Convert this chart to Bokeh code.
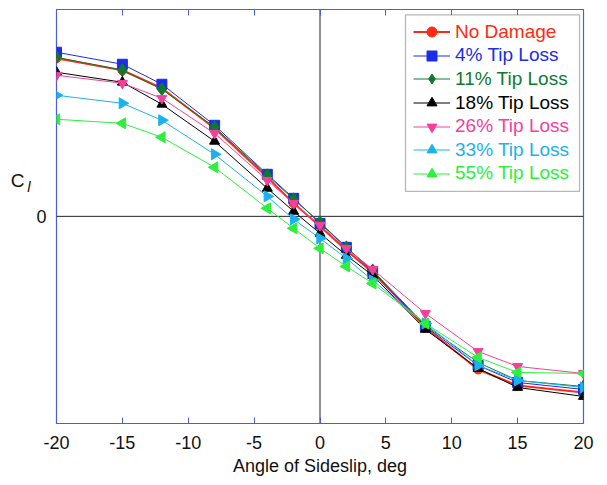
import numpy as np
from bokeh.plotting import figure
from bokeh.models import (Range1d, LinearAxis, FixedTicker, Span, Legend, LegendItem,
                          BoxAnnotation, NumeralTickFormatter)
from bokeh.embed import file_html
from bokeh.resources import INLINE

# ---- data ----
beta = [-20, -15, -12, -8, -4, -2, 0, 2, 4, 8, 12, 15, 20]
no_damage = [0.0158, 0.0146, 0.0128, 0.0088, 0.0039, 0.0013, -0.0010, -0.0034, -0.0056, -0.0111, -0.0153, -0.0169, -0.0176]
tip_04 = [0.0164, 0.0152, 0.0132, 0.0091, 0.0042, 0.0018, -0.0007, -0.0031, -0.0055, -0.0110, -0.0149, -0.0166, -0.0173]
tip_11 = [0.0159, 0.0146, 0.0127, 0.0089, 0.0041, 0.0017, -0.0006, -0.0031, -0.0054, -0.0109, -0.0146, -0.0164, -0.0170]
tip_18 = [0.0144, 0.0134, 0.0112, 0.0075, 0.0028, 0.0005, -0.0017, -0.0039, -0.0059, -0.0113, -0.0152, -0.0171, -0.0180]
tip_26 = [0.0141, 0.0133, 0.0118, 0.0083, 0.0036, 0.0013, -0.0009, -0.0032, -0.0053, -0.0097, -0.0135, -0.0150, -0.0157]
tip_33 = [0.0121, 0.0113, 0.0096, 0.0062, 0.0020, -0.0003, -0.0022, -0.0042, -0.0064, -0.0107, -0.0149, -0.0164, -0.0171]
tip_55 = [0.0097, 0.0093, 0.0079, 0.0049, 0.0008, -0.0012, -0.0032, -0.0050, -0.0067, -0.0107, -0.0141, -0.0156, -0.0157]

series_values = [no_damage, tip_04, tip_11, tip_18, tip_26, tip_33, tip_55]
series_names = ["No Damage", "4% Tip Loss", "11% Tip Loss", "18% Tip Loss",
                "26% Tip Loss", "33% Tip Loss", "55% Tip Loss"]
x_ticks = [-20, -15, -10, -5, 0, 5, 10, 15, 20]
y_ticks = [0]
y_label_main = "C"
y_label_sub = "l"

# ---- styles ----
colors = ["#ff2a12", "#1b2ee6", "#0f7a2e", "#000000", "#f5409a", "#1ab2ee", "#2cf03c"]
markers = ["circle", "square", "diamond", "triangle", "inverted_triangle", "triangle", "triangle"]
angles = [0, 0, 0, 0, 0, -np.pi / 2, np.pi / 2]
widths = [2, 1, 1, 1, 1, 1, 1]
sizes = [9, 10, 13, 10, 10, 11, 11]
FRAME = "#4a5ce0"
FONT = "Liberation Sans"
INK = "#111111"

p = figure(width=603, height=484, output_backend="svg", toolbar_location=None,
           x_range=Range1d(-20, 20), y_range=Range1d(-0.0207, 0.02067),
           x_axis_location=None, y_axis_location=None,
           min_border_left=56, min_border_right=20, min_border_top=9, min_border_bottom=61)
p.grid.visible = False
p.outline_line_color = FRAME
p.outline_line_width = 1.2
p.background_fill_color = "white"
p.border_fill_color = "white"

xb = LinearAxis(ticker=FixedTicker(ticks=x_ticks), axis_label="Angle of Sideslip, deg",
                formatter=NumeralTickFormatter(format="0"))
xb.major_tick_in = 6
xb.major_tick_out = 0
xb.major_tick_line_color = FRAME
xb.minor_tick_line_color = None
xb.axis_line_color = None
xb.major_label_text_font = FONT
xb.major_label_text_font_size = "18px"
xb.major_label_text_color = INK
xb.major_label_standoff = 12
xb.axis_label_text_font = FONT
xb.axis_label_text_font_size = "18px"
xb.axis_label_text_font_style = "normal"
xb.axis_label_text_color = INK
xb.axis_label_standoff = 4
p.add_layout(xb, "below")

xt = LinearAxis(ticker=FixedTicker(ticks=x_ticks))
xt.major_tick_in = 6
xt.major_tick_out = 0
xt.major_tick_line_color = FRAME
xt.minor_tick_line_color = None
xt.axis_line_color = None
xt.major_label_text_font_size = "1px"
xt.major_label_text_color = None
xt.major_label_standoff = 0
p.add_layout(xt, "above")


def bare_left_axis(tick, text, size, style, standoff):
    ax = LinearAxis(ticker=FixedTicker(ticks=[tick]),
                    major_label_overrides={tick: text})
    ax.major_tick_in = 0
    ax.major_tick_out = 0
    ax.major_tick_line_color = None
    ax.minor_tick_line_color = None
    ax.axis_line_color = None
    ax.major_label_text_font = FONT
    ax.major_label_text_font_size = size
    ax.major_label_text_font_style = style
    ax.major_label_text_color = INK
    ax.major_label_standoff = standoff
    return ax


# "0" tick label, then the C_l symbol (C with italic subscript l)
p.add_layout(bare_left_axis(y_ticks[0], "0", "18px", "normal", 10), "left")
p.add_layout(bare_left_axis(0.00295, y_label_sub, "15px", "italic", 3), "left")
p.add_layout(bare_left_axis(0.0036, y_label_main, "19px", "normal", 0), "left")

p.add_layout(Span(location=0, dimension="width", line_color="#222222", line_width=1, level="underlay"))
p.add_layout(Span(location=0, dimension="height", line_color="#555555", line_width=1.3, level="underlay"))

renderers = []
for vals, c, m, a, w, s in zip(series_values, colors, markers, angles, widths, sizes):
    rl = p.line(beta, vals, line_color=c, line_width=w)
    rs = p.scatter(beta, vals, marker=m, angle=a, size=s, fill_color=c, line_color=c)
    renderers.append((rl, rs))

# legend frame
p.add_layout(BoxAnnotation(left=6.49, right=19.70, top=0.02014, bottom=0.0025,
                           fill_color="white", fill_alpha=1.0, line_color=INK,
                           line_width=1.3, level="annotation"))

for i, (name, c, (rl, rs)) in enumerate(zip(series_names, colors, renderers)):
    center = 31.7 + 23.6 * i
    leg = Legend(items=[LegendItem(label=name, renderers=[rl, rs])],
                 location=(357, 423 - center - 12.5),
                 label_text_color=c, label_text_font=FONT, label_text_font_size="19px",
                 background_fill_alpha=0, border_line_color=None,
                 padding=0, margin=0, spacing=0,
                 glyph_width=37, glyph_height=25, label_height=22, label_standoff=5)
    p.add_layout(leg, "center")

open("out.html", "w").write(file_html(p, INLINE))
